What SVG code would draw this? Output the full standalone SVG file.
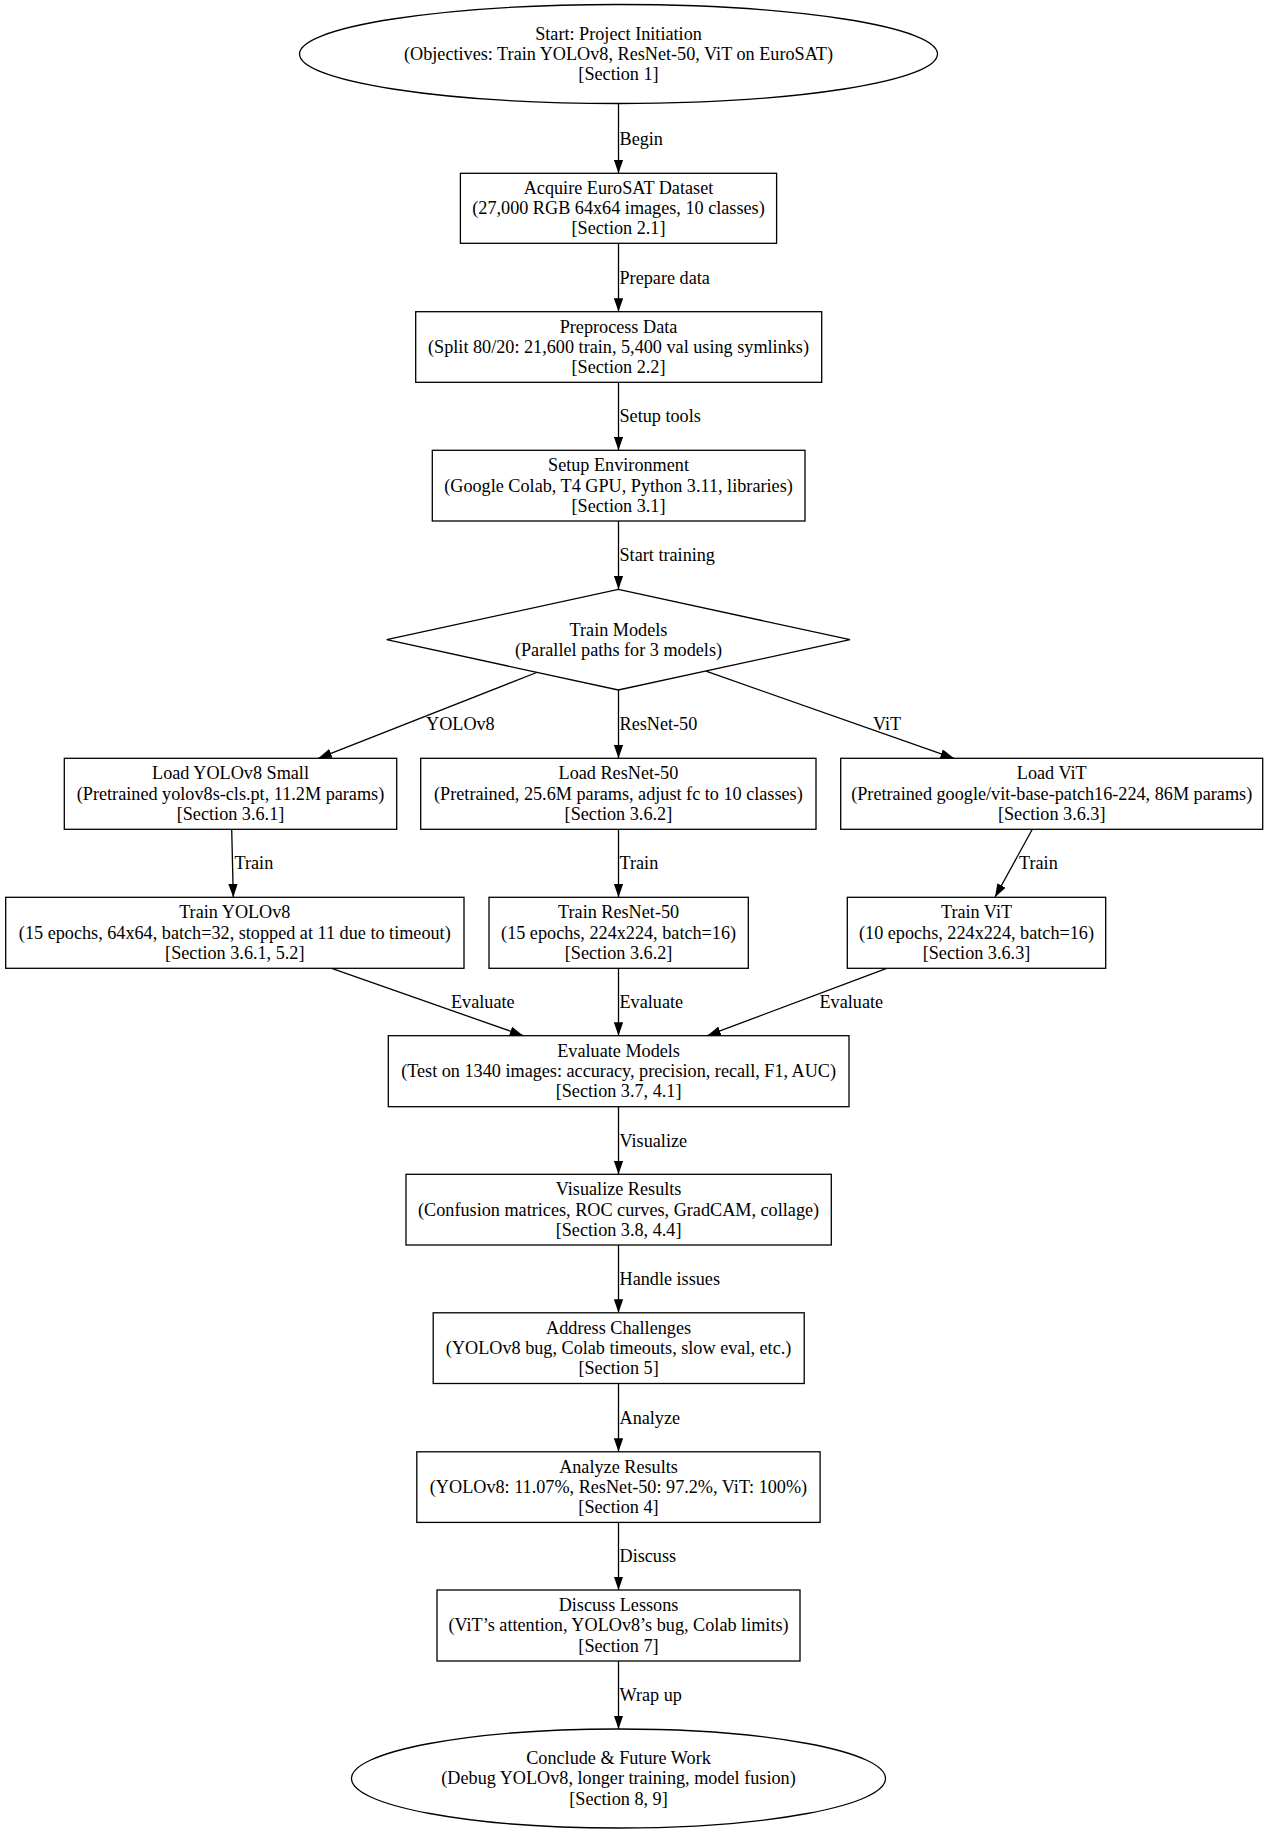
<svg xmlns="http://www.w3.org/2000/svg" width="1269" height="1835" viewBox="0 0 1269 1835">
<style>
  .n { fill: #ffffff; stroke: #000000; stroke-width: 1.3; }
  .t { font-family: "Liberation Serif", "Times New Roman", serif; font-size: 18.2px; fill: #000000; text-anchor: middle; }
  .l { font-family: "Liberation Serif", "Times New Roman", serif; font-size: 18.2px; fill: #000000; text-anchor: start; }
  .e { fill: none; stroke: #000000; stroke-width: 1.3; }
</style>
<defs>
  <marker id="ah" viewBox="0 0 13.5 9.4" refX="13.5" refY="4.7" markerWidth="13.5" markerHeight="9.4" markerUnits="userSpaceOnUse" orient="auto">
    <path d="M0,0 L13.5,4.7 L0,9.4 z" fill="#000000"/>
  </marker>
</defs>
<rect x="0" y="0" width="1269" height="1835" fill="#ffffff"/>

<g id="connectors">
  <line class="e" x1="618.5" y1="103.5" x2="618.5" y2="173.3" marker-end="url(#ah)"/>
  <line class="e" x1="618.5" y1="243.3" x2="618.5" y2="311.7" marker-end="url(#ah)"/>
  <line class="e" x1="618.5" y1="382.3" x2="618.5" y2="450.3" marker-end="url(#ah)"/>
  <line class="e" x1="618.5" y1="521" x2="618.5" y2="589.3" marker-end="url(#ah)"/>
  <line class="e" x1="536.7" y1="672.5" x2="318.3" y2="758.3" marker-end="url(#ah)"/>
  <line class="e" x1="618.5" y1="690" x2="618.5" y2="758.3" marker-end="url(#ah)"/>
  <line class="e" x1="706" y1="671.2" x2="954" y2="758.3" marker-end="url(#ah)"/>
  <line class="e" x1="231.7" y1="829.3" x2="233.3" y2="897.3" marker-end="url(#ah)"/>
  <line class="e" x1="618.5" y1="829.3" x2="618.5" y2="897.3" marker-end="url(#ah)"/>
  <line class="e" x1="1032.3" y1="829.3" x2="995" y2="897.3" marker-end="url(#ah)"/>
  <line class="e" x1="331.7" y1="968.3" x2="523.3" y2="1035.7" marker-end="url(#ah)"/>
  <line class="e" x1="618.5" y1="968.3" x2="618.5" y2="1035.7" marker-end="url(#ah)"/>
  <line class="e" x1="886.7" y1="968.3" x2="707.3" y2="1035.7" marker-end="url(#ah)"/>
  <line class="e" x1="618.5" y1="1106.7" x2="618.5" y2="1174.3" marker-end="url(#ah)"/>
  <line class="e" x1="618.5" y1="1245" x2="618.5" y2="1312.8" marker-end="url(#ah)"/>
  <line class="e" x1="618.5" y1="1383.5" x2="618.5" y2="1451.8" marker-end="url(#ah)"/>
  <line class="e" x1="618.5" y1="1522.4" x2="618.5" y2="1590" marker-end="url(#ah)"/>
  <line class="e" x1="618.5" y1="1661" x2="618.5" y2="1729" marker-end="url(#ah)"/>
  <text class="l" x="619.5" y="144.5">Begin</text>
  <text class="l" x="619.5" y="283.6">Prepare data</text>
  <text class="l" x="619.5" y="422.4">Setup tools</text>
  <text class="l" x="619.5" y="561.3">Start training</text>
  <text class="l" x="426" y="730.3">YOLOv8</text>
  <text class="l" x="619.5" y="730.3">ResNet-50</text>
  <text class="l" x="873" y="730.3">ViT</text>
  <text class="l" x="234.5" y="868.8">Train</text>
  <text class="l" x="619.5" y="868.8">Train</text>
  <text class="l" x="1019" y="868.8">Train</text>
  <text class="l" x="451" y="1008.1">Evaluate</text>
  <text class="l" x="619.5" y="1008.1">Evaluate</text>
  <text class="l" x="819.5" y="1008.1">Evaluate</text>
  <text class="l" x="619.5" y="1146.6">Visualize</text>
  <text class="l" x="619.5" y="1285">Handle issues</text>
  <text class="l" x="619.5" y="1423.7">Analyze</text>
  <text class="l" x="619.5" y="1562.3">Discuss</text>
  <text class="l" x="619.5" y="1701.1">Wrap up</text>
</g>

<g id="start">
  <ellipse class="n" cx="618.5" cy="54" rx="319" ry="49.5"/>
  <text class="t" x="618.5" y="39.6">Start: Project Initiation</text>
  <text class="t" x="618.5" y="59.8">(Objectives: Train YOLOv8, ResNet-50, ViT on EuroSAT)</text>
  <text class="t" x="618.5" y="80">[Section 1]</text>
</g>
<g id="acquire">
  <rect class="n" x="460.4" y="173.3" width="316.2" height="70"/>
  <text class="t" x="618.5" y="193.9">Acquire EuroSAT Dataset</text>
  <text class="t" x="618.5" y="214.1">(27,000 RGB 64x64 images, 10 classes)</text>
  <text class="t" x="618.5" y="234.3">[Section 2.1]</text>
</g>
<g id="preprocess">
  <rect class="n" x="415.7" y="311.7" width="406" height="70.6"/>
  <text class="t" x="618.5" y="332.6">Preprocess Data</text>
  <text class="t" x="618.5" y="352.8">(Split 80/20: 21,600 train, 5,400 val using symlinks)</text>
  <text class="t" x="618.5" y="373">[Section 2.2]</text>
</g>
<g id="setup">
  <rect class="n" x="432.3" y="450.3" width="372.7" height="70.7"/>
  <text class="t" x="618.5" y="471.3">Setup Environment</text>
  <text class="t" x="618.5" y="491.5">(Google Colab, T4 GPU, Python 3.11, libraries)</text>
  <text class="t" x="618.5" y="511.7">[Section 3.1]</text>
</g>
<g id="train">
  <polygon class="n" points="618.3,589.3 850,639.7 618.3,690 386.7,639.7"/>
  <text class="t" x="618.5" y="635.5">Train Models</text>
  <text class="t" x="618.5" y="655.7">(Parallel paths for 3 models)</text>
</g>
<g id="loadyolo">
  <rect class="n" x="64.3" y="758.3" width="332.4" height="71"/>
  <text class="t" x="230.5" y="779.4">Load YOLOv8 Small</text>
  <text class="t" x="230.5" y="799.6">(Pretrained yolov8s-cls.pt, 11.2M params)</text>
  <text class="t" x="230.5" y="819.8">[Section 3.6.1]</text>
</g>
<g id="loadresnet">
  <rect class="n" x="420.7" y="758.3" width="395.3" height="71"/>
  <text class="t" x="618.4" y="779.4">Load ResNet-50</text>
  <text class="t" x="618.4" y="799.6">(Pretrained, 25.6M params, adjust fc to 10 classes)</text>
  <text class="t" x="618.4" y="819.8">[Section 3.6.2]</text>
</g>
<g id="loadvit">
  <rect class="n" x="840.7" y="758.3" width="422" height="71"/>
  <text class="t" x="1051.7" y="779.4">Load ViT</text>
  <text class="t" x="1051.7" y="799.6">(Pretrained google/vit-base-patch16-224, 86M params)</text>
  <text class="t" x="1051.7" y="819.8">[Section 3.6.3]</text>
</g>
<g id="trainyolo">
  <rect class="n" x="5.7" y="897.3" width="458.3" height="71"/>
  <text class="t" x="234.8" y="918.4">Train YOLOv8</text>
  <text class="t" x="234.8" y="938.6">(15 epochs, 64x64, batch=32, stopped at 11 due to timeout)</text>
  <text class="t" x="234.8" y="958.8">[Section 3.6.1, 5.2]</text>
</g>
<g id="trainresnet">
  <rect class="n" x="489" y="897.3" width="259.3" height="71"/>
  <text class="t" x="618.6" y="918.4">Train ResNet-50</text>
  <text class="t" x="618.6" y="938.6">(15 epochs, 224x224, batch=16)</text>
  <text class="t" x="618.6" y="958.8">[Section 3.6.2]</text>
</g>
<g id="trainvit">
  <rect class="n" x="847.3" y="897.3" width="258.4" height="71"/>
  <text class="t" x="976.5" y="918.4">Train ViT</text>
  <text class="t" x="976.5" y="938.6">(10 epochs, 224x224, batch=16)</text>
  <text class="t" x="976.5" y="958.8">[Section 3.6.3]</text>
</g>
<g id="evaluate">
  <rect class="n" x="388.3" y="1035.7" width="460.7" height="71"/>
  <text class="t" x="618.6" y="1056.8">Evaluate Models</text>
  <text class="t" x="618.6" y="1077">(Test on 1340 images: accuracy, precision, recall, F1, AUC)</text>
  <text class="t" x="618.6" y="1097.2">[Section 3.7, 4.1]</text>
</g>
<g id="visualize">
  <rect class="n" x="406" y="1174.3" width="425.3" height="70.7"/>
  <text class="t" x="618.6" y="1195.3">Visualize Results</text>
  <text class="t" x="618.6" y="1215.5">(Confusion matrices, ROC curves, GradCAM, collage)</text>
  <text class="t" x="618.6" y="1235.7">[Section 3.8, 4.4]</text>
</g>
<g id="address">
  <rect class="n" x="433.2" y="1312.8" width="371" height="70.7"/>
  <text class="t" x="618.6" y="1333.8">Address Challenges</text>
  <text class="t" x="618.6" y="1354">(YOLOv8 bug, Colab timeouts, slow eval, etc.)</text>
  <text class="t" x="618.6" y="1374.2">[Section 5]</text>
</g>
<g id="analyze">
  <rect class="n" x="416.8" y="1451.8" width="403.3" height="70.6"/>
  <text class="t" x="618.5" y="1472.7">Analyze Results</text>
  <text class="t" x="618.5" y="1492.9">(YOLOv8: 11.07%, ResNet-50: 97.2%, ViT: 100%)</text>
  <text class="t" x="618.5" y="1513.1">[Section 4]</text>
</g>
<g id="discuss">
  <rect class="n" x="437" y="1590" width="363" height="71"/>
  <text class="t" x="618.5" y="1611.1">Discuss Lessons</text>
  <text class="t" x="618.5" y="1631.3">(ViT’s attention, YOLOv8’s bug, Colab limits)</text>
  <text class="t" x="618.5" y="1651.5">[Section 7]</text>
</g>
<g id="conclude">
  <ellipse class="n" cx="618.5" cy="1778.5" rx="267" ry="49.5"/>
  <text class="t" x="618.5" y="1764.1">Conclude &amp; Future Work</text>
  <text class="t" x="618.5" y="1784.3">(Debug YOLOv8, longer training, model fusion)</text>
  <text class="t" x="618.5" y="1804.5">[Section 8, 9]</text>
</g>
</svg>
